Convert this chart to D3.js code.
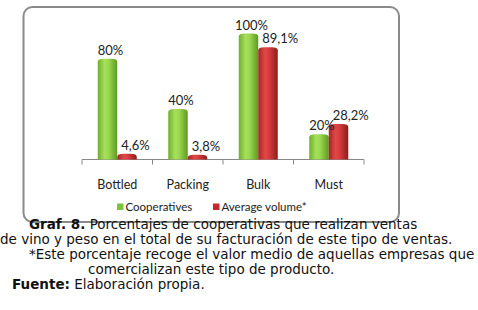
<!DOCTYPE html>
<html>
<head>
<meta charset="utf-8">
<script src="https://cdn.jsdelivr.net/npm/d3@7"></script>
<style>
  body { margin: 0; background: #fff; }
  svg { display: block; }
</style>
</head>
<body>
<div id="chart"></div>
<script>
// data
var categories = ["Bottled", "Packing", "Bulk", "Must"];
var cooperatives = [80, 40, 100, 20];
var averageVolume = [4.6, 3.8, 89.1, 28.2];
var seriesNames = ["Cooperatives", "Average volume*"];
var valueLabelsCoop = ["80%", "40%", "100%", "20%"];
var valueLabelsAvg = ["4,6%", "3,8%", "89,1%", "28,2%"];

var width = 478, height = 310;
var margin = {top: 33.5, left: 82, right: 114, bottom: 147};

var svg = d3.select("#chart")
  .append("svg")
    .attr("width", width)
    .attr("height", height);

var defs = svg.append("defs");
function cyl(id, stops) {
  var g = defs.append("linearGradient").attr("id", id)
    .attr("x1", "0%").attr("x2", "100%").attr("y1", "0%").attr("y2", "0%");
  stops.forEach(function(s) {
    g.append("stop").attr("offset", s[0]).attr("stop-color", s[1]);
  });
}
cyl("gGreen", [["0%", "#6fae2c"], ["35%", "#a6e05c"], ["55%", "#9bd84f"], ["100%", "#5f9a22"]]);
cyl("gRed", [["0%", "#a82424"], ["35%", "#e04848"], ["55%", "#d63c3c"], ["100%", "#8e1c1c"]]);

// frame
svg.append("rect")
  .attr("x", 23.5).attr("y", 7)
  .attr("width", 375.5).attr("height", 215)
  .attr("rx", 9)
  .attr("fill", "#fff")
  .attr("stroke", "#8a8a8a")
  .attr("stroke-width", 2);

var plotW = width - margin.left - margin.right;
var plotH = height - margin.top - margin.bottom;
var g = svg.append("g")
  .attr("transform", "translate(" + margin.left + "," + margin.top + ")");

var x = d3.scaleBand().domain(categories).range([0, plotW]).paddingInner(0).paddingOuter(0);
var y = d3.scaleLinear().domain([0, 100]).range([plotH - 3.5, 0]);
var y0 = plotH - 3.5;
var barW = 19.5;

// axis
g.append("line")
  .attr("x1", 0).attr("x2", plotW)
  .attr("y1", y0).attr("y2", y0)
  .attr("stroke", "#888").attr("stroke-width", 1);
g.selectAll(".tick")
  .data(d3.range(categories.length + 1))
  .enter().append("line")
    .attr("x1", function(i) { return i * x.bandwidth(); })
    .attr("x2", function(i) { return i * x.bandwidth(); })
    .attr("y1", y0).attr("y2", y0 + 5)
    .attr("stroke", "#888");

function bar(d, i, xo) {
  var bx = x(categories[i]) + x.bandwidth() / 2 + xo;
  var r = 3;
  var p = d3.path();
  p.moveTo(bx, y0);
  p.lineTo(bx, y(d) + r);
  p.quadraticCurveTo(bx, y(d), bx + r * 2, y(d));
  p.lineTo(bx + barW - r * 2, y(d));
  p.quadraticCurveTo(bx + barW, y(d), bx + barW, y(d) + r);
  p.lineTo(bx + barW, y0);
  p.closePath();
  return p.toString();
}

g.selectAll(".coop")
  .data(cooperatives)
  .enter().append("path")
    .attr("d", function(d, i) { return bar(d, i, -barW); })
    .attr("fill", "url(#gGreen)");

g.selectAll(".avg")
  .data(averageVolume)
  .enter().append("path")
    .attr("d", function(d, i) { return bar(d, i, 0); })
    .attr("fill", "url(#gRed)");

var lblFont = "Lato, 'Open Sans', sans-serif";

g.selectAll(".lc")
  .data(cooperatives)
  .enter().append("text")
    .attr("x", function(d, i) { return x(categories[i]) + x.bandwidth() / 2 - barW / 2 + 3; })
    .attr("y", function(d) { return y(d) - 4; })
    .attr("text-anchor", "middle")
    .attr("font-family", lblFont)
    .attr("font-size", 13)
    .attr("fill", "#222")
    .text(function(d, i) { return valueLabelsCoop[i]; });

g.selectAll(".la")
  .data(averageVolume)
  .enter().append("text")
    .attr("x", function(d, i) { return x(categories[i]) + x.bandwidth() / 2 + 4; })
    .attr("y", function(d) { return y(d) - 4; })
    .attr("text-anchor", "start")
    .attr("font-family", lblFont)
    .attr("font-size", 13)
    .attr("fill", "#222")
    .text(function(d, i) { return valueLabelsAvg[i]; });

g.selectAll(".cat")
  .data(categories)
  .enter().append("text")
    .attr("x", function(d) { return x(d) + x.bandwidth() / 2; })
    .attr("y", y0 + 29)
    .attr("text-anchor", "middle")
    .attr("font-family", lblFont)
    .attr("font-size", 12.5)
    .attr("fill", "#222")
    .text(function(d) { return d; });

// legend
var legX = [117, 213];
var legColors = ["#7cc43a", "#c8282c"];
var leg = svg.selectAll(".leg")
  .data(seriesNames)
  .enter().append("g")
    .attr("transform", function(d, i) { return "translate(" + legX[i] + ",207)"; });
leg.append("rect")
  .attr("x", 0).attr("y", -3.5)
  .attr("width", 6.5).attr("height", 6.5)
  .attr("fill", function(d, i) { return legColors[i]; });
leg.append("text")
  .attr("x", 8.5).attr("y", 4)
  .attr("font-family", lblFont)
  .attr("font-size", 11.5)
  .attr("fill", "#222")
  .text(function(d) { return d; });

// caption
var cap = svg.append("g")
  .attr("font-family", "'DejaVu Sans', Verdana, sans-serif")
  .attr("font-size", 13.5)
  .attr("fill", "#111");
var t1 = cap.append("text").attr("x", 29).attr("y", 229);
t1.append("tspan").attr("font-weight", "bold").text("Graf. 8.");
t1.append("tspan").text(" Porcentajes de cooperativas que realizan ventas");
cap.append("text").attr("x", 0).attr("y", 244)
  .text("de vino y peso en el total de su facturación de este tipo de ventas.");
cap.append("text").attr("x", 29).attr("y", 259)
  .text("*Este porcentaje recoge el valor medio de aquellas empresas que");
cap.append("text").attr("x", 88).attr("y", 274)
  .text("comercializan este tipo de producto.");
var t5 = cap.append("text").attr("x", 12).attr("y", 289);
t5.append("tspan").attr("font-weight", "bold").text("Fuente:");
t5.append("tspan").text(" Elaboración propia.");
</script>
</body>
</html>
